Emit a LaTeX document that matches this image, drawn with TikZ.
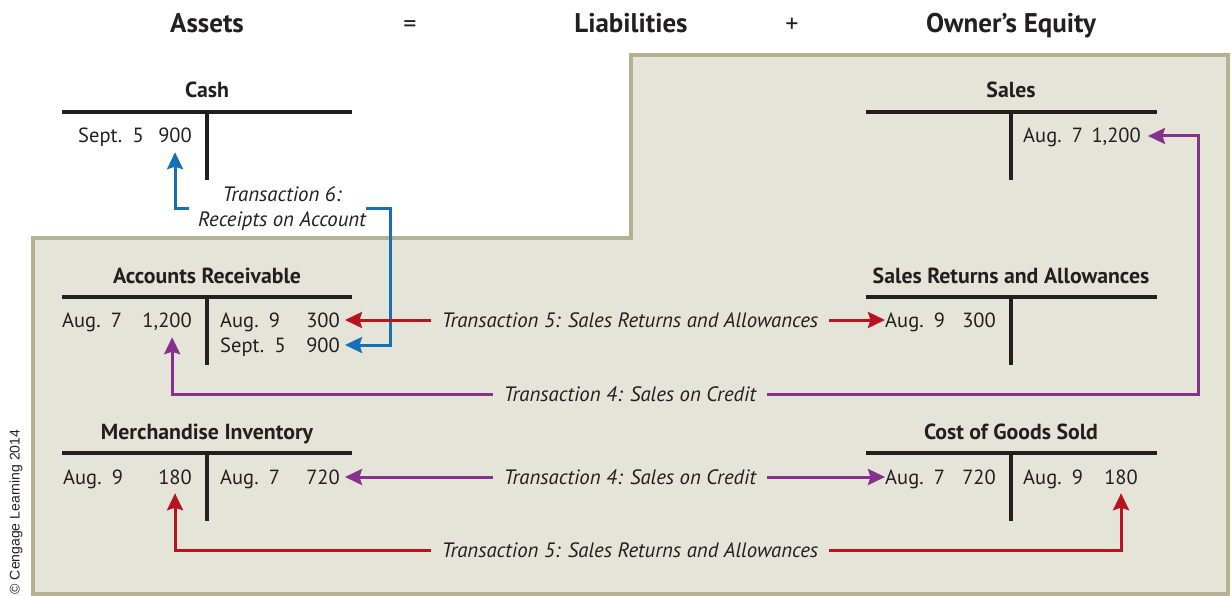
\documentclass[tikz,border=0pt]{standalone}
\usepackage{fontspec}
\setmainfont{PT Sans}
\newfontfamily\credfont{Liberation Sans}
\usepackage{xcolor}
\usepackage{tikz}
\usetikzlibrary{arrows.meta}

\definecolor{panelfill}{HTML}{E5E4D9}
\definecolor{paneledge}{HTML}{B5B291}
\definecolor{ink}{HTML}{231F20}
\definecolor{txblue}{HTML}{1570B5}
\definecolor{txred}{HTML}{B7141F}
\definecolor{txpurple}{HTML}{88308E}

\tikzset{
  head/.style = {font=\fontsize{27}{32}\selectfont\bfseries, text=ink,
                 anchor=base, inner sep=0pt},
  title/.style = {font=\fontsize{21.8}{26}\selectfont\bfseries, text=ink,
                  anchor=base, inner sep=0pt},
  entry/.style = {font=\fontsize{20.5}{24}\selectfont, text=ink, inner sep=0pt,
                  text height=14pt, text depth=0pt},
  note/.style = {font=\fontsize{20.8}{25}\selectfont\itshape, text=ink,
                 inner xsep=11pt, inner ysep=0pt},
  noteline/.style = {note, text height=14pt, text depth=0pt},
  tline/.style = {line width=4.5pt, draw=ink},
  flow/.style = {line width=3pt, -{Stealth[length=17pt,width=16pt,inset=2.5pt]}},
}

\begin{document}
\begin{tikzpicture}[x=1pt, y=-1pt]
\useasboundingbox (0,0) rectangle (1231,596);

% shaded block behind the sales side
\draw[line width=4.5pt, draw=paneledge, fill=panelfill]
  (33,594) |- (631,238) |- (1228,55) |- (33,594) -- cycle;

% accounting equation
\node[head] (assets) at (207,33) {Assets};
\node[head, font=\fontsize{26}{30}\selectfont] (eq) at (410,33) {=};
\node[head] (liab) at (631,33) {Liabilities};
\node[head, font=\fontsize{26}{30}\selectfont] (plus) at (792,33) {+};
\node[head] (equity) at (1011,33) {Owner’s Equity};

% T accounts
\node[title] (cash) at (207,98) {Cash};
\draw[tline] (62,112) -- (352,112);
\draw[tline] (207,112) -- (207,180);

\node[title] (sales) at (1011,98) {Sales};
\draw[tline] (866,112) -- (1157,112);
\draw[tline] (1011,112) -- (1011,180);

\node[title] (ar) at (207,283) {Accounts Receivable};
\draw[tline] (62,297) -- (352,297);
\draw[tline] (207,297) -- (207,365);

\node[title] (sra) at (1011,283) {Sales Returns and Allowances};
\draw[tline] (866,297) -- (1157,297);
\draw[tline] (1011,297) -- (1011,365);

\node[title] (mi) at (207,439) {Merchandise Inventory};
\draw[tline] (62,453) -- (352,453);
\draw[tline] (207,453) -- (207,521);

\node[title] (cogs) at (1011,439) {Cost of Goods Sold};
\draw[tline] (866,453) -- (1157,453);
\draw[tline] (1011,453) -- (1011,521);

% postings
\node[entry, anchor=west] (cashd1) at (78,136) {Sept.\enspace 5};
\node[entry, anchor=east] (cash900) at (192,136) {900};

\node[entry, anchor=west] (salesc1) at (1023,136) {Aug.\enspace 7};
\node[entry, anchor=east] (sales1200) at (1141,136) {1,200};

\node[entry, anchor=west] (ard1) at (62,320) {Aug.\enspace 7};
\node[entry, anchor=east] (ar1200) at (192,320) {1,200};
\node[entry, anchor=west] (arc1) at (220,320) {Aug.\enspace 9};
\node[entry, anchor=east] (ar300) at (340,320) {300};
\node[entry, anchor=west] (arc2) at (220,345) {Sept.\enspace 5};
\node[entry, anchor=east] (ar900) at (340,345) {900};

\node[entry, anchor=west] (srad1) at (885,320) {Aug.\enspace 9};
\node[entry, anchor=east] (sra300) at (996,320) {300};

\node[entry, anchor=west] (mid1) at (63,477) {Aug.\enspace 9};
\node[entry, anchor=east] (mi180) at (192,477) {180};
\node[entry, anchor=west] (mic1) at (220,477) {Aug.\enspace 7};
\node[entry, anchor=east] (mi720) at (340,477) {720};

\node[entry, anchor=west] (cogsd1) at (885,477) {Aug.\enspace 7};
\node[entry, anchor=east] (cogs720) at (996,477) {720};
\node[entry, anchor=west] (cogsc1) at (1023,477) {Aug.\enspace 9};
\node[entry, anchor=east] (cogs180) at (1138,477) {180};

% transaction labels
\node[note, align=center, inner xsep=0pt] (t6) at (282,209) {Transaction 6:\\Receipts on Account};
\node[noteline] (t5a) at (630,320) {Transaction 5: Sales Returns and Allowances};
\node[noteline] (t4a) at (630,394) {Transaction 4: Sales on Credit};
\node[noteline] (t4b) at (630,477) {Transaction 4: Sales on Credit};
\node[noteline] (t5b) at (630,550) {Transaction 5: Sales Returns and Allowances};
\coordinate (receiptx) at (390,0);
\coordinate (salesx) at (1198,0);

% transaction 6
\draw[flow, txblue, shorten >=9pt] ([xshift=-9pt]t6.west) -| (cash900.south);
\draw[flow, txblue, shorten >=5pt] (t6.east) -- (t6.east -| receiptx) |- (ar900.east);

% transaction 4
\draw[flow, txpurple, shorten >=10pt] (t4a.west) -| ([xshift=5pt]ar1200.south);
\draw[flow, txpurple, shorten >=7pt] (t4a.east) -- (t4a.east -| salesx) |- (sales1200.east);
\draw[flow, txpurple, shorten >=5pt] (t4b.west) -- (mi720.east);
\draw[flow, txpurple] (t4b.east) -- (cogsd1.west);

% transaction 5
\draw[flow, txred, shorten >=5pt] (t5a.west) -- (ar300.east);
\draw[flow, txred] (t5a.east) -- (srad1.west);
\draw[flow, txred, shorten >=9pt] (t5b.west) -| (mi180.south);
\draw[flow, txred, shorten >=9pt] (t5b.east) -| (cogs180.south);

\node[rotate=90, font=\credfont\fontsize{14}{16}\selectfont, text=ink] (credit) at (16,512) {© Cengage Learning 2014};
\end{tikzpicture}
\end{document}
